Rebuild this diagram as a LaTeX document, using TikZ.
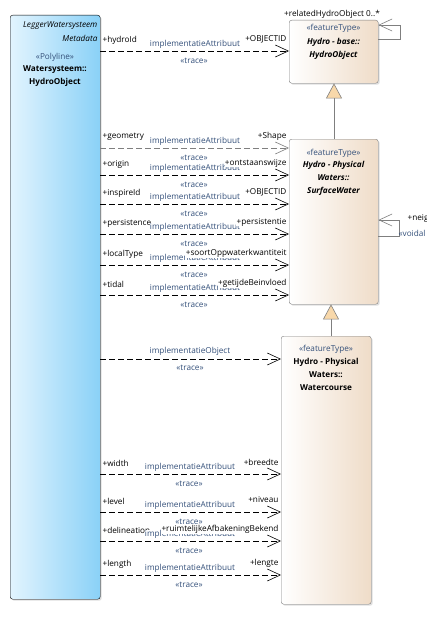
\documentclass[tikz,border=0pt]{standalone}
\usepackage{fontspec}
\setmainfont{Open Sans}
\usetikzlibrary{arrows.meta,shadows}
\definecolor{bluel}{HTML}{E2F4FE}
\definecolor{blued}{HTML}{8AD1F7}
\definecolor{beiged}{HTML}{EFDCC8}
\definecolor{lbl}{HTML}{34507A}
\definecolor{genfill}{HTML}{F8D8AA}
\definecolor{edgegrey}{HTML}{7F7F7F}
\newcommand{\fs}{\fontsize{8.2}{9.5}\selectfont}
\begin{document}
\begin{tikzpicture}[x=1pt,y=-1pt,font=\fs,
  boxsh/.style={rounded corners=2.5pt,anchor=north west,inner sep=0pt,
    drop shadow={shadow xshift=1.5pt,shadow yshift=-1.5pt,opacity=0.25}},
  srcbox/.style={boxsh,draw=black,left color=bluel,right color=blued},
  tgtbox/.style={boxsh,draw=edgegrey,left color=white,right color=beiged},
  txt/.style={inner sep=0.4pt},
  stereo/.style={txt,text=lbl},
  bname/.style={txt,font=\fs\bfseries},
  biname/.style={txt,font=\fs\bfseries\itshape},
  srole/.style={txt,anchor=west},
  trole/.style={txt,anchor=east,fill=white},
  linklbl/.style={txt,text=lbl,fill=white},
  tracelbl/.style={txt,text=lbl},
  link/.style={dash pattern=on 6pt off 3pt,line width=0.6pt,
    -{Straight Barb[length=13pt,width=12pt,line width=0.6pt]}},
  greylink/.style={link,draw=edgegrey},
  selfloop/.style={draw=edgegrey,line width=0.6pt,
    -{Straight Barb[length=13pt,width=12pt,line width=0.6pt]}},
  genline/.style={draw=edgegrey,line width=0.6pt,
    -{Triangle[length=15pt,width=16pt,fill=genfill]}}]
\useasboundingbox (0,0) rectangle (427,634);

% boxes
\node[srcbox,minimum width=90pt,minimum height=584pt] (src) at (10,15) {};
\node[tgtbox,minimum width=89pt,minimum height=63pt] (ho) at (289,20) {};
\node[tgtbox,minimum width=89pt,minimum height=165pt] (sw) at (289,139) {};
\node[tgtbox,minimum width=90pt,minimum height=268pt] (wc) at (281,336) {};

% source box text
\node[txt,anchor=east,font=\fs\itshape] (pk1) at (98,26) {LeggerWatersysteem};
\node[txt,anchor=east,font=\fs\itshape] (pk2) at (98,38) {Metadata};
\node[stereo] (s1) at (55,57) {«Polyline»};
\node[bname] (s2) at (55,69.5) {Watersysteem::};
\node[bname] (s3) at (55,82) {HydroObject};

% HydroObject text
\node[stereo] (h1) at (333.5,28) {«featureType»};
\node[biname] (h2) at (333.5,42) {Hydro - base::};
\node[biname] (h3) at (333.5,55) {HydroObject};

% SurfaceWater text
\node[stereo] (w1) at (333.5,153) {«featureType»};
\node[biname] (w2) at (333.5,165.5) {Hydro - Physical};
\node[biname] (w3) at (333.5,178) {Waters::};
\node[biname] (w4) at (333.5,191) {SurfaceWater};

% Watercourse text
\node[stereo] (c1) at (326,349) {«featureType»};
\node[bname] (c2) at (326,362) {Hydro - Physical};
\node[bname] (c3) at (326,375) {Waters::};
\node[bname] (c4) at (326,388) {Watercourse};

% generalizations
\coordinate (g1) at (334,0);
\coordinate (g2) at (331,0);
\draw[genline] (sw.north -| g1) -- (ho.south -| g1);
\draw[genline] (wc.north -| g2) -- (sw.south -| g2);

% self associations
\coordinate (la) at (400,25);
\coordinate (lb) at (400,39);
\draw[selfloop] (ho.east |- lb) -- (lb) -- (la) -- (ho.east |- la);
\node[txt] (rel) at (332,14) {+relatedHydroObject 0..*};
\coordinate (lc) at (399,220);
\coordinate (ld) at (399,236);
\draw[selfloop] (sw.east |- ld) -- (ld) -- (lc) -- (sw.east |- lc);
\node[txt,anchor=west] (nb) at (407,218) {+neig};
\node[txt,anchor=west,text=lbl] (vd) at (398,233) {«voidal};

% trace connectors
\foreach \yy/\sr/\tr/\tb/\st/\lx [count=\i] in {
  51/+hydroId/+OBJECTID/ho/link/195,
  148/+geometry/+Shape/sw/greylink/195,
  175/+origin/+ontstaanswijze/sw/link/195,
  204/+inspireId/+OBJECTID/sw/link/195,
  234/+persistence/+persistentie/sw/link/195,
  265/+localType/+soortOppwaterkwantiteit/sw/link/195,
  295/+tidal/+getijdeBeinvloed/sw/link/195,
  474/+width/+breedte/wc/link/190,
  512/+level/+niveau/wc/link/190,
  541/+delineation/+ruimtelijkeAfbakeningBekend/wc/link/190,
  575/+length/+lengte/wc/link/190}{
  \coordinate (r\i) at (0,\yy);
  \draw[\st] (src.east |- r\i) -- (\tb.west |- r\i);
  \node[srole] (sr\i) at (102,\yy-11) {\sr};
  \node[linklbl] (ll\i) at (\lx,\yy-7) {implementatieAttribuut};
  \node[trole] (tr\i) at ([xshift=-2pt]\tb.west |- 0,\yy-12) {\tr};
  \node[tracelbl] (tl\i) at (\lx-1,\yy+10) {«trace»};
}

% implementatieObject
\coordinate (ro) at (0,359);
\draw[link] (src.east |- ro) -- (wc.west |- ro);
\node[linklbl] (lo) at (190,351) {implementatieObject};
\node[tracelbl] (to) at (190,368) {«trace»};
\end{tikzpicture}
\end{document}
